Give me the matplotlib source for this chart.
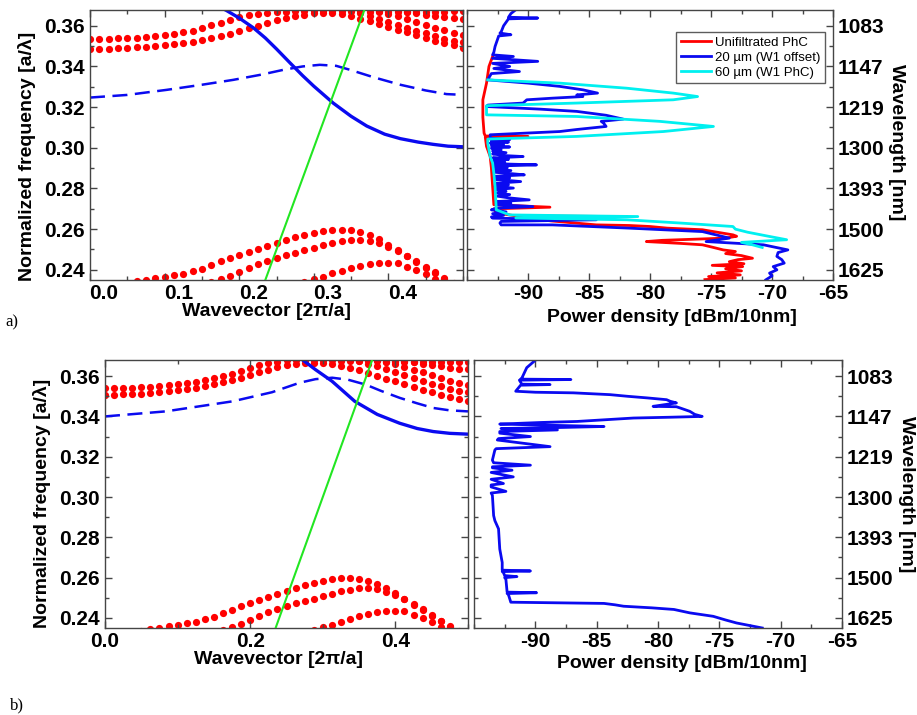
import numpy as np
import matplotlib
matplotlib.use('Agg')
import matplotlib.pyplot as plt
from matplotlib.ticker import MultipleLocator, FixedLocator, FixedFormatter, FormatStrFormatter
from matplotlib.transforms import ScaledTranslation

plt.rcParams['font.family'] = ['Liberation Sans', 'DejaVu Sans']
plt.rcParams['font.weight'] = 'bold'
plt.rcParams['axes.unicode_minus'] = False

nan = np.nan

# ---------------- data ----------------
# normalized frequency ticks and the matching wavelengths (a = 390 nm)
freq_ticks = [0.24, 0.26, 0.28, 0.30, 0.32, 0.34, 0.36]
wl_labels = ['1625', '1500', '1393', '1300', '1219', '1147', '1083']

# k sampling of the simulated bands [2pi/a]
k_grid = np.linspace(0, 0.5, 41)

# upper bulk bands, panel a
band_up1_a = [0.3536, 0.3536, 0.3537, 0.3538, 0.3540, 0.3542, 0.3545, 0.3549, 0.3554, 0.3560,
              0.3567, 0.3576, 0.3588, 0.3602, 0.3616, 0.3630, 0.3642, 0.3652, 0.3659, 0.3664,
              0.3668, 0.3670, 0.3672, 0.3674, 0.3675, 0.3675, 0.3674, 0.3673, 0.3672, 0.3671,
              0.3670, 0.3669, 0.3668, 0.3668, 0.3667, 0.3667, 0.3668, 0.3669, 0.3670, 0.3671,
              0.3672]
band_up2_a = [0.3487, 0.3487, 0.3488, 0.3490, 0.3492, 0.3495, 0.3498, 0.3502, 0.3506, 0.3511,
              0.3516, 0.3522, 0.3529, 0.3538, 0.3548, 0.3560, 0.3574, 0.3588, 0.3601, 0.3614,
              0.3626, 0.3637, 0.3647, 0.3655, 0.3661, 0.3664, 0.3662, 0.3656, 0.3646, 0.3634,
              0.3621, 0.3608, 0.3594, 0.3580, 0.3567, 0.3553, 0.3540, 0.3527, 0.3515, 0.3503,
              0.3490]
# upper bulk bands, panel b
band_up1_b = [0.3540, 0.3541, 0.3542, 0.3543, 0.3545, 0.3548, 0.3551, 0.3555, 0.3560, 0.3566,
              0.3572, 0.3580, 0.3590, 0.3601, 0.3613, 0.3626, 0.3640, 0.3653, 0.3664, 0.3672,
              0.3678, 0.3680, 0.3681, 0.3680, 0.3679, 0.3678, 0.3677, 0.3676, 0.3675, 0.3674,
              0.3673, 0.3672, 0.3671, 0.3670, 0.3670, 0.3669, 0.3669, 0.3668, 0.3668, 0.3668,
              0.3668]
band_up2_b = [0.3507, 0.3508, 0.3509, 0.3511, 0.3513, 0.3516, 0.3520, 0.3525, 0.3530, 0.3536,
              0.3543, 0.3551, 0.3560, 0.3570, 0.3581, 0.3593, 0.3606, 0.3619, 0.3632, 0.3644,
              0.3654, 0.3661, 0.3665, 0.3666, 0.3664, 0.3659, 0.3651, 0.3641, 0.3629, 0.3616,
              0.3602, 0.3588, 0.3574, 0.3560, 0.3546, 0.3533, 0.3520, 0.3507, 0.3495, 0.3485,
              0.3478]
# descending bands near the zone edge (both panels)
band_dn1 = [nan] * 30 + [0.3682, 0.3672, 0.3660, 0.3646, 0.3632, 0.3618, 0.3604, 0.3591,
                         0.3578, 0.3566, 0.3556]
band_dn2 = [nan] * 32 + [0.3682, 0.3676, 0.3669, 0.3662, 0.3655, 0.3648, 0.3642, 0.3637,
                         0.3634]
band_dn3 = [nan] * 28 + [0.3675, 0.3662, 0.3648, 0.3634, 0.3619, 0.3605, 0.3590, 0.3576,
                         0.3562, 0.3549, 0.3537, 0.3527, 0.3520]
# lower bulk bands (both panels)
band_lo1 = [0.2300, 0.2310, 0.2320, 0.2330, 0.2336, 0.2343, 0.2350, 0.2358, 0.2365, 0.2373,
            0.2380, 0.2393, 0.2406, 0.2423, 0.2441, 0.2457, 0.2473, 0.2488, 0.2503, 0.2518,
            0.2534, 0.2548, 0.2561, 0.2572, 0.2582, 0.2592, 0.2596, 0.2597, 0.2594, 0.2585,
            0.2570, 0.2550, 0.2522, 0.2496, 0.2466, 0.2440, 0.2410, 0.2384, 0.2357, 0.2330,
            0.2310]
band_lo2 = [nan] * 12 + [0.2320, 0.2340, 0.2357, 0.2370, 0.2390, 0.2408, 0.2428, 0.2445,
                         0.2460, 0.2473, 0.2484, 0.2496, 0.2508, 0.2520, 0.2532, 0.2541,
                         0.2547, 0.2547, 0.2542, 0.2530, 0.2514, 0.2495, 0.2470, 0.2442,
                         0.2415, 0.2387, 0.2360, 0.2335, 0.2310]
band_lo3 = [nan] * 22 + [0.2330, 0.2342, 0.2356, 0.2367, 0.2382, 0.2396, 0.2408, 0.2419,
                         0.2427, 0.2432, 0.2434, 0.2432, 0.2416, 0.2400, 0.2380, 0.2356,
                         0.2335, 0.2310, 0.2290]

# guided modes, panel a
mode_a_k = [0.170, 0.183, 0.200, 0.219, 0.235, 0.250, 0.268, 0.285, 0.300, 0.326, 0.350, 0.371,
            0.395, 0.416, 0.440, 0.460, 0.480, 0.500]
mode_a_f = [0.3700, 0.3675, 0.3638, 0.3590, 0.3540, 0.3486, 0.3418, 0.3355, 0.3303, 0.3220,
            0.3155, 0.3107, 0.3067, 0.3045, 0.3028, 0.3017, 0.3008, 0.3005]
mode2_a_k = [0.0, 0.05, 0.103, 0.15, 0.192, 0.23, 0.26, 0.285, 0.308, 0.33, 0.348, 0.38, 0.416, 0.45, 0.478, 0.49]
mode2_a_f = [0.3247, 0.3260, 0.3285, 0.3310, 0.3334, 0.3360, 0.3384, 0.3400, 0.3408, 0.3403, 0.3384, 0.3347, 0.3310, 0.3282, 0.3264, 0.3262]
# guided modes, panel b
mode_b_k = [0.26, 0.268, 0.29, 0.3126, 0.344, 0.375, 0.406, 0.43, 0.452, 0.475, 0.5]
mode_b_f = [0.3712, 0.3692, 0.3632, 0.3575, 0.3475, 0.3410, 0.3366, 0.3340, 0.3325, 0.3316, 0.3312]
mode2_b_k = [0.0, 0.0835, 0.176, 0.23, 0.268, 0.29, 0.313, 0.335, 0.359, 0.38, 0.406, 0.43, 0.452, 0.475, 0.5]
mode2_b_f = [0.3400, 0.3425, 0.3475, 0.3520, 0.3567, 0.3585, 0.3592, 0.3582, 0.3558, 0.3527, 0.3492, 0.3465, 0.3442, 0.3430, 0.3425]

# light line (f = k)
light_k = [0.20, 0.40]

# measured spectra: (normalized frequency, power density dBm/10nm)
spec_unfilt = [(0.3449, -92.9), (0.3400, -93.2), (0.3318, -93.4), (0.3236, -93.7), (0.3150, -93.7),
               (0.3072, -93.6), (0.3058, -93.5), (0.3056, -90.0), (0.3052, -93.5), (0.3007, -93.4),
               (0.2957, -93.1), (0.2900, -93.0), (0.2810, -92.9), (0.2720, -92.8), (0.2708, -88.2),
               (0.2700, -92.8), (0.2680, -92.6), (0.2665, -91.0), (0.2662, -81.9), (0.2655, -90.5),
               (0.2640, -88.0), (0.2621, -84.4), (0.2618, -81.7), (0.2613, -80.0), (0.2605, -78.6),
               (0.2597, -75.7), (0.2585, -74.5), (0.2572, -73.2), (0.2565, -72.9), (0.2556, -73.8),
               (0.2545, -79.0), (0.2539, -80.3), (0.2530, -77.5), (0.2523, -75.7), (0.2510, -74.8),
               (0.2498, -74.0), (0.2490, -73.0), (0.2480, -73.8), (0.2470, -72.5), (0.2457, -71.6),
               (0.2450, -72.8), (0.2440, -73.5), (0.2430, -72.3), (0.2422, -74.9), (0.2416, -72.4),
               (0.2405, -73.8), (0.2395, -72.5), (0.2385, -74.5), (0.2375, -72.6), (0.2367, -75.2),
               (0.2360, -73.0), (0.2352, -75.5)]

spec_20um = [(0.3700, -90.9), (0.3679, -91.0), (0.3660, -91.4), (0.3642, -91.6), (0.3638, -89.2),
             (0.3634, -91.6), (0.3600, -92.0), (0.3570, -92.2), (0.3564, -92.3), (0.3556, -91.4),
             (0.3550, -92.4), (0.3498, -92.7), (0.3470, -92.8), (0.3457, -92.9), (0.3449, -91.2),
             (0.3440, -92.9), (0.3425, -89.2), (0.3415, -92.9), (0.3400, -91.5), (0.3390, -92.8),
             (0.3375, -90.7), (0.3365, -93.0), (0.3345, -93.2), (0.3334, -93.3), (0.3318, -90.0),
             (0.3302, -87.4), (0.3285, -85.5), (0.3269, -84.3), (0.3260, -86.0), (0.3252, -85.5),
             (0.3244, -88.0), (0.3236, -90.1), (0.3220, -90.4), (0.3210, -93.3), (0.3203, -93.4),
             (0.3190, -89.0), (0.3179, -86.0), (0.3160, -83.6), (0.3141, -82.2), (0.3130, -84.0),
             (0.3121, -83.8), (0.3105, -83.6), (0.3090, -86.0), (0.3080, -87.4), (0.3064, -93.1),
             (0.3048, -93.1), (0.3040, -91.5), (0.3035, -93.0), (0.3028, -91.6), (0.3023, -93.1),
             (0.3016, -92.0), (0.3010, -93.0), (0.3004, -91.5), (0.2998, -93.0), (0.2990, -92.2),
             (0.2984, -92.9), (0.2976, -91.8), (0.2970, -92.9), (0.2962, -92.0), (0.2957, -90.4),
             (0.2950, -92.9), (0.2943, -91.6), (0.2936, -92.8), (0.2929, -91.9), (0.2922, -92.8),
             (0.2916, -89.3), (0.2910, -92.8), (0.2902, -91.7), (0.2895, -92.7), (0.2888, -91.4),
             (0.2880, -92.8), (0.2872, -91.2), (0.2867, -90.3), (0.2860, -92.7), (0.2852, -91.5),
             (0.2845, -92.7), (0.2834, -90.6), (0.2826, -92.6), (0.2818, -91.6), (0.2810, -92.7),
             (0.2802, -91.2), (0.2795, -92.6), (0.2786, -91.8), (0.2778, -92.6), (0.2770, -91.5),
             (0.2762, -92.5), (0.2754, -91.6), (0.2744, -89.9), (0.2736, -92.5), (0.2728, -91.4),
             (0.2720, -92.6), (0.2711, -89.6), (0.2703, -92.6), (0.2695, -93.0), (0.2685, -91.8),
             (0.2676, -92.9), (0.2668, -92.0), (0.2660, -93.0), (0.2654, -92.9), (0.2646, -84.4),
             (0.2638, -92.2), (0.2630, -92.3), (0.2621, -92.2), (0.2621, -88.0), (0.2605, -81.7),
             (0.2588, -75.7), (0.2556, -73.5), (0.2539, -75.4), (0.2523, -70.7), (0.2498, -68.7),
             (0.2485, -69.5), (0.2466, -69.6), (0.2450, -69.2), (0.2433, -69.0), (0.2416, -69.9),
             (0.2400, -69.6), (0.2384, -70.2), (0.2370, -70.0), (0.2351, -70.5)]

spec_60um = [(0.3334, -93.3), (0.3318, -87.4), (0.3293, -81.9), (0.3269, -78.1), (0.3252, -76.1),
             (0.3236, -78.1), (0.3220, -86.0), (0.3207, -93.4), (0.3162, -93.4), (0.3154, -86.0),
             (0.3130, -79.2), (0.3105, -74.8), (0.3080, -78.9), (0.3056, -86.0), (0.3043, -93.3),
             (0.3023, -93.3), (0.2990, -93.2), (0.2957, -93.1), (0.2925, -92.9), (0.2875, -92.8),
             (0.2810, -92.7), (0.2695, -92.6), (0.2670, -91.5), (0.2662, -81.0), (0.2655, -91.0),
             (0.2646, -81.9), (0.2630, -77.5), (0.2613, -73.2), (0.2600, -73.0), (0.2585, -72.0),
             (0.2564, -70.2), (0.2548, -68.8), (0.2535, -72.5), (0.2523, -71.6), (0.2510, -70.8)]

spec_b = [(0.3700, -89.6), (0.3642, -90.7), (0.3590, -91.1), (0.3585, -91.2), (0.3583, -87.1),
          (0.3580, -91.3), (0.3560, -91.1), (0.3558, -88.8), (0.3555, -91.2), (0.3525, -91.6),
          (0.3520, -90.0), (0.3517, -86.9), (0.3508, -83.9), (0.3500, -82.5), (0.3492, -80.9),
          (0.3483, -79.3), (0.3475, -79.0), (0.3467, -78.5), (0.3458, -79.5), (0.3450, -80.4),
          (0.3448, -78.5), (0.3442, -78.2), (0.3425, -77.4), (0.3410, -77.0), (0.3400, -76.4),
          (0.3396, -79.0), (0.3392, -82.0), (0.3375, -86.6), (0.3370, -89.5), (0.3362, -92.9),
          (0.3355, -88.0), (0.3350, -84.4), (0.3345, -88.0), (0.3340, -92.8), (0.3333, -88.2),
          (0.3325, -92.9), (0.3317, -92.9), (0.3300, -90.4), (0.3290, -93.0), (0.3283, -93.1),
          (0.3250, -88.8), (0.3240, -93.2), (0.3233, -93.3), (0.3183, -93.5), (0.3170, -93.4),
          (0.3158, -90.4), (0.3150, -93.5), (0.3145, -93.5), (0.3133, -91.9), (0.3122, -93.6),
          (0.3100, -91.8), (0.3088, -93.6), (0.3067, -92.6), (0.3060, -93.6), (0.3050, -93.6),
          (0.3028, -92.4), (0.3020, -93.6), (0.3008, -93.5), (0.2908, -93.4), (0.2883, -93.3),
          (0.2842, -93.0), (0.2742, -92.9), (0.2675, -92.7), (0.2637, -92.7), (0.2633, -90.4),
          (0.2630, -92.7), (0.2625, -92.6), (0.2610, -92.5), (0.2605, -91.5), (0.2600, -92.5),
          (0.2592, -92.4), (0.2528, -92.3), (0.2525, -89.9), (0.2521, -92.3), (0.2517, -92.2),
          (0.2478, -92.0), (0.2472, -84.4), (0.2465, -83.5), (0.2458, -82.8), (0.2450, -80.5),
          (0.2442, -78.7), (0.2425, -77.4), (0.2408, -75.5), (0.2390, -74.5), (0.2375, -73.6),
          (0.2350, -71.5)]

# ---------------- figure ----------------
fig = plt.figure(figsize=(9.17, 7.15), dpi=100)
W, H = 917.0, 715.0

def px_axes(x0, y0, x1, y1):
    return fig.add_axes([x0 / W, 1 - y1 / H, (x1 - x0) / W, (y1 - y0) / H])

ax_a = px_axes(90, 9.5, 463, 280)
ax_as = px_axes(467, 9.5, 833, 280)
ax_b = px_axes(105, 360, 468, 628)
ax_bs = px_axes(474, 360, 842, 628)

ylim = (0.235, 0.368)
dot = dict(ls='none', marker='o', ms=5.2, color='#ff0000', mec='none', zorder=1)


def style_axes(ax):
    for s in ax.spines.values():
        s.set_color('#454545')
        s.set_linewidth(1.0)
    ax.tick_params(which='both', direction='in', top=True, right=True,
                   labelsize=15, colors='#454545', labelcolor='black')
    ax.tick_params(which='major', length=5, width=1)
    ax.tick_params(which='minor', length=3, width=1)
    ax.set_ylim(*ylim)


def band_panel(ax, up1, up2, mk, mf, m2k, m2f, xmajor, xminor):
    for b in [up1, up2, band_dn1, band_dn2, band_dn3, band_lo1, band_lo2, band_lo3]:
        ax.plot(k_grid, b, **dot)
    ax.plot(mk, mf, color='#0a0af0', lw=2.4, zorder=2)
    ax.plot(m2k, m2f, color='#0a0af0', lw=1.8, dashes=(6, 3), zorder=2)
    ax.plot(light_k, light_k, color='#22e622', lw=1.5, zorder=3)
    style_axes(ax)
    ax.set_xlim(0, 0.5)
    ax.xaxis.set_minor_locator(MultipleLocator(xminor))
    ax.xaxis.set_major_formatter(FormatStrFormatter('%.1f'))
    ax.yaxis.set_major_locator(FixedLocator(freq_ticks))
    ax.yaxis.set_minor_locator(MultipleLocator(0.01))
    ax.yaxis.set_major_formatter(FormatStrFormatter('%.2f'))
    ax.set_xticks([t for t in np.arange(0, 0.45, xmajor)])
    ax.tick_params(axis='x', pad=3)


def spec_panel(ax, traces):
    for trace, color in traces:
        f, p = zip(*trace)
        ax.plot(p, f, color=color, lw=2.0)
    style_axes(ax)
    ax.set_xlim(-95, -65)
    ax.set_xticks([-90, -85, -80, -75, -70, -65])
    ax.xaxis.set_minor_locator(MultipleLocator(2.5))
    ax.yaxis.set_major_locator(FixedLocator(freq_ticks))
    ax.yaxis.set_major_formatter(FixedFormatter(wl_labels))
    ax.yaxis.set_minor_locator(MultipleLocator(0.01))
    ax.tick_params(axis='y', labelleft=False, labelright=True, pad=3)
    ax.tick_params(axis='x', pad=3)


band_panel(ax_a, band_up1_a, band_up2_a, mode_a_k, mode_a_f, mode2_a_k, mode2_a_f, 0.1, 0.05)
band_panel(ax_b, band_up1_b, band_up2_b, mode_b_k, mode_b_f, mode2_b_k, mode2_b_f, 0.2, 0.1)

spec_panel(ax_as, [(spec_unfilt, '#ff0000'), (spec_20um, '#0a0af0'), (spec_60um, '#00f0f0')])
spec_panel(ax_bs, [(spec_b, '#0a0af0')])

leg = ax_as.legend(['Unifiltrated PhC', '20 \u00b5m (W1 offset)', '60 \u00b5m (W1 PhC)'],
                   loc='upper right', bbox_to_anchor=(0.979, 0.916), borderaxespad=0,
                   prop={'size': 9.5, 'weight': 'normal'}, frameon=True, fancybox=False,
                   handlelength=2.3, handletextpad=0.3, labelspacing=0.2, borderpad=0.35)
leg.get_frame().set_edgecolor('#333333')
leg.get_frame().set_linewidth(1.0)

# axis titles
lab = dict(fontsize=14, fontweight='bold', ha='center', va='center')
fig.text(27 / W, 1 - 156 / H, 'Normalized frequency [a/\u03bb]', rotation=90, **lab)
fig.text(266 / W, 1 - 312 / H, 'Wavevector [2\u03c0/a]', **lab)
fig.text(672 / W, 1 - 317 / H, 'Power density [dBm/10nm]', **lab)
fig.text(897 / W, 1 - 142 / H, 'Wavelength [nm]', rotation=-90, **lab)
fig.text(42 / W, 1 - 503 / H, 'Normalized frequency [a/\u03bb]', rotation=90, **lab)
fig.text(278 / W, 1 - 660 / H, 'Wavevector [2\u03c0/a]', **lab)
fig.text(682 / W, 1 - 663 / H, 'Power density [dBm/10nm]', **lab)
fig.text(906 / W, 1 - 494 / H, 'Wavelength [nm]', rotation=-90, **lab)

fig.text(5 / W, 1 - 322 / H, 'a)', family='Liberation Serif', fontsize=12,
         fontweight='normal', va='center')
fig.text(10 / W, 1 - 705 / H, 'b)', family='Liberation Serif', fontsize=12,
         fontweight='normal', va='center')

# the x labels of panel a sit a bit right of their ticks in the original
fig.canvas.draw()
shift = ScaledTranslation(14 / 100, 0, fig.dpi_scale_trans)
for t in ax_a.xaxis.get_major_ticks():
    t.label1.set_transform(t.label1.get_transform() + shift)

fig.savefig('out.png', dpi=100)
